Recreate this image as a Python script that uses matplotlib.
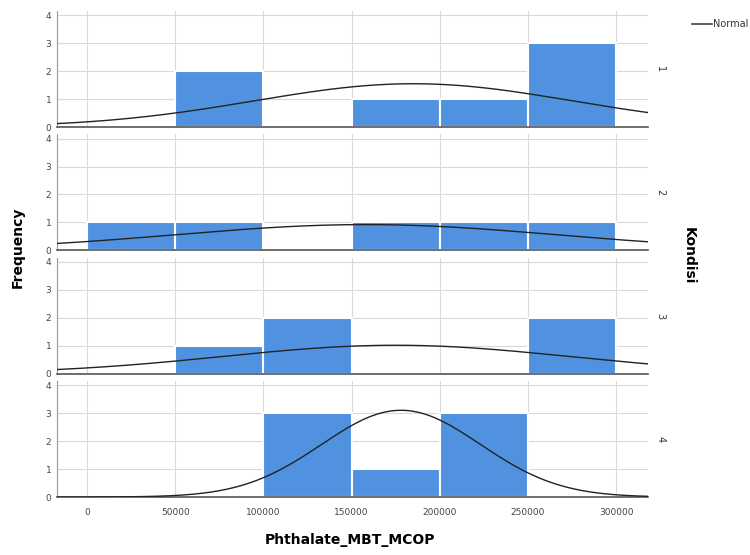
import matplotlib
matplotlib.use("Agg")
import matplotlib.pyplot as plt
import numpy as np

# histogram counts per 50000-wide bin, one row per Kondisi
bin_edges = [0, 50000, 100000, 150000, 200000, 250000, 300000]
counts_1 = [0, 2, 0, 1, 1, 3]
counts_2 = [1, 1, 0, 1, 1, 1]
counts_3 = [0, 1, 2, 0, 0, 2]
counts_4 = [0, 0, 3, 1, 3, 0]
kondisi = ["1", "2", "3", "4"]

# normal curve parameters (mean, sd, n)
norm_mean = [185000, 158000, 175000, 178000]
norm_sd = [90000, 108000, 98000, 45000]
norm_n = [7, 5, 5, 7]

x_ticks = [0, 50000, 100000, 150000, 200000, 250000, 300000]
y_ticks = [0, 1, 2, 3, 4]

bar_color = "#5092E0"
all_counts = [counts_1, counts_2, counts_3, counts_4]
binw = 50000

fig, axes = plt.subplots(nrows=4, ncols=1, sharex=True, figsize=(7.5, 5.55), dpi=100)
plt.subplots_adjust(left=0.076, right=0.864, top=0.980, bottom=0.1045, hspace=0.063)

xs = np.linspace(-17000, 318000, 400)
for i, ax in enumerate(axes):
    ax.bar(bin_edges[:-1], all_counts[i], width=binw, align="edge",
           color=bar_color, edgecolor="white", linewidth=1.5, zorder=2)
    curve = norm_n[i] * binw / (norm_sd[i] * np.sqrt(2 * np.pi)) * \
        np.exp(-0.5 * ((xs - norm_mean[i]) / norm_sd[i]) ** 2)
    ax.plot(xs, curve, color="#222222", linewidth=1.0, zorder=3)

    ax.set_xlim(-17000, 318000)
    ax.set_ylim(0, 4.15)
    ax.set_yticks(y_ticks)
    ax.set_xticks(x_ticks)
    ax.grid(True, color="#d9d9d9", linewidth=0.8, zorder=0)
    ax.set_axisbelow(True)
    for s in ["top", "right"]:
        ax.spines[s].set_visible(False)
    ax.spines["left"].set_color("#999999")
    ax.spines["bottom"].set_color("#555555")
    ax.spines["bottom"].set_linewidth(1.2)
    ax.tick_params(axis="both", labelsize=6.5, colors="#444444", length=0, pad=4)
    ax.text(1.012, 0.5, kondisi[i], transform=ax.transAxes, rotation=-90,
            fontsize=7, color="#333333", va="center", ha="left")

axes[-1].set_xticklabels([str(t) for t in x_ticks])
axes[-1].tick_params(axis="x", pad=8)

fig.text(0.024, 0.555, "Frequency", rotation=90, fontsize=10, fontweight="bold",
         va="center", ha="center")
fig.text(0.918, 0.54, "Kondisi", rotation=-90, fontsize=10, fontweight="bold",
         va="center", ha="center")
fig.text(0.467, 0.027, "Phthalate_MBT_MCOP", fontsize=10, fontweight="bold",
         va="center", ha="center")

# legend entry, cut off at the right edge like the reference
fig.lines.append(plt.Line2D([0.922, 0.949], [0.957, 0.957], transform=fig.transFigure,
                            color="#444444", linewidth=1.2))
fig.text(0.951, 0.957, "Normal", fontsize=7, color="#333333", va="center", ha="left")

fig.savefig("out.png", dpi=100)
